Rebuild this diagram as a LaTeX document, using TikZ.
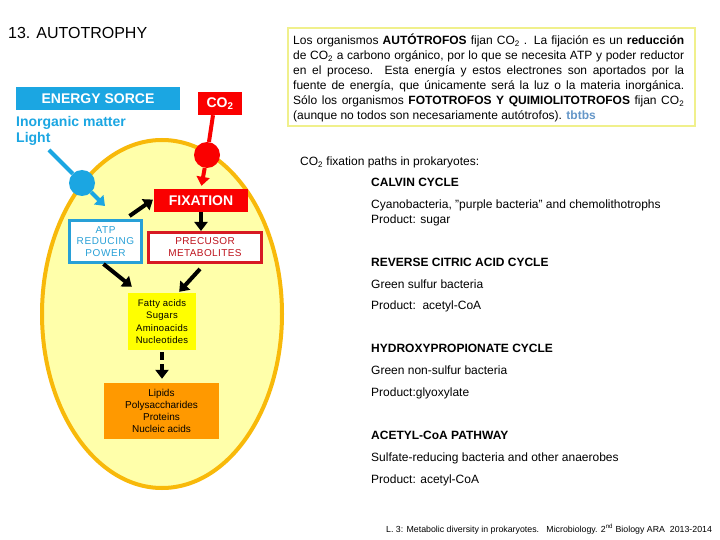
\documentclass[tikz,border=0pt]{standalone}
\usepackage{fontspec}
\setmainfont{Liberation Sans}
\usetikzlibrary{arrows.meta,calc}
\definecolor{cyanE}{RGB}{27,166,226}
\definecolor{cyanT}{RGB}{40,160,215}
\definecolor{redE}{RGB}{250,0,0}
\definecolor{precline}{RGB}{215,25,35}
\definecolor{prectext}{RGB}{190,20,30}
\definecolor{cellfill}{RGB}{255,255,170}
\definecolor{cellline}{RGB}{248,185,10}
\definecolor{yelbox}{RGB}{255,255,0}
\definecolor{orgbox}{RGB}{255,153,0}
\definecolor{boxyel}{RGB}{240,240,140}
\definecolor{tbcol}{RGB}{100,150,200}
\begin{document}
\begin{tikzpicture}[x=1pt,y=-1pt,
  txt/.style={anchor=base west, inner sep=0pt, font=\fontsize{12}{14}\selectfont},
  hd/.style={anchor=base west, inner sep=0pt, font=\fontsize{12}{14}\selectfont\bfseries},
  blk/.style={draw=black, line width=4pt, -{Triangle[length=9pt,width=13pt]}},
  flow/.style={line width=4pt, -{Triangle[length=9pt,width=13pt]}},
  plainbox/.style={rectangle, inner sep=0pt, align=center},
  dot/.style={circle, inner sep=0pt, minimum size=26pt}
]
\useasboundingbox (0,0) rectangle (720,540);
\fill[white] (0,0) rectangle (720,540);

% title
\node[anchor=base west, inner sep=0pt, font=\fontsize{16}{18}\selectfont] (title) at (8,39) {13. AUTOTROPHY};

% energy source and CO2
\node[plainbox, fill=cyanE, minimum width=164pt, minimum height=23pt, text=white, font=\fontsize{14}{16}\selectfont\bfseries] (energy) at (98,98.5) {ENERGY SORCE};
\node[plainbox, fill=redE, minimum width=44pt, minimum height=23pt, text=white, font=\fontsize{14}{16}\selectfont\bfseries] (co2) at (220,103.5) {CO\textsubscript{2}};
\node[anchor=base west, inner sep=0pt, text=cyanE, font=\fontsize{14}{16}\selectfont\bfseries] (inorg) at (16,127) {Inorganic matter};
\node[anchor=base west, inner sep=0pt, text=cyanE, font=\fontsize{14}{16}\selectfont\bfseries] (light) at (16,143) {Light};

% cell
\draw[draw=cellline, fill=cellfill, line width=4pt] (162,314) ellipse [x radius=120pt, y radius=174pt];

% circles
\node[dot, fill=cyanE] (bc) at (82,183) {};
\node[dot, fill=redE] (rc) at (207,155) {};
\coordinate (ls) at (49,150);
\coordinate (bt) at (105,206);

% boxes
\node[plainbox, fill=redE, minimum width=94pt, minimum height=23pt, text=white, font=\fontsize{14}{16}\selectfont\bfseries] (fix) at (201,200.5) {FIXATION};
\node[plainbox, fill=white, draw=cyanT, line width=3pt, minimum width=72pt, minimum height=42pt, text=cyanT, font=\fontsize{10}{11.5}\selectfont\addfontfeatures{LetterSpace=6}] (atp) at (105.5,241.5) {ATP\\REDUCING\\POWER};
\node[plainbox, fill=white, draw=precline, line width=3pt, minimum width=113pt, minimum height=30pt, text=prectext, font=\fontsize{10}{12}\selectfont\addfontfeatures{LetterSpace=4}] (prec) at (205,247.5) {PRECUSOR\\METABOLITES};
\node[plainbox, fill=yelbox, minimum width=68pt, minimum height=57pt, font=\fontsize{9.5}{12.3}\selectfont\addfontfeatures{LetterSpace=3}] (yel) at (162,321.5) {Fatty acids\\Sugars\\Aminoacids\\Nucleotides};
\node[plainbox, fill=orgbox, minimum width=115pt, minimum height=56pt, font=\fontsize{10}{12}\selectfont] (orng) at (161.5,411) {Lipids\\Polysaccharides\\Proteins\\Nucleic acids};

% connectors
\draw[cyanE, line width=4pt] (ls) -- (bc);
\draw[flow, cyanE] (bc) -- (bt);
\draw[redE, line width=4pt] ([xshift=-7pt]co2.south) -- (rc);
\draw[flow, redE, shorten >=3pt] (rc) -- (fix.north);
\draw[blk, shorten >=1pt] ([shift={(24pt,3pt)}]atp.north) -- ([yshift=1.5pt]fix.west);
\draw[blk] (fix.south) -- (fix.south |- prec.north);
\draw[blk] ([xshift=-2pt]atp.south) -- ([shift={(4pt,6pt)}]yel.north west);
\draw[blk] ([shift={(-5pt,-5pt)}]prec.south) -- ([shift={(-17pt,1pt)}]yel.north east);
\draw[blk, dash pattern=on 8pt off 4pt on 40pt, shorten <=2pt, shorten >=4pt] (yel.south) -- (yel.south |- orng.north);

% text box
\draw[boxyel, line width=1.3pt] (288,28) rectangle (695,126);
\node[txt] (p1) at (293,45) {\makebox[391pt][s]{Los organismos \textbf{AUTÓTROFOS} fijan CO\textsubscript{2} . La fijación es un \textbf{reducción}}};
\node[txt] (p2) at (293,60) {\makebox[391pt][s]{de CO\textsubscript{2} a carbono orgánico, por lo que se necesita ATP y poder reductor}};
\node[txt] (p3) at (293,75) {\makebox[391pt][s]{en el proceso. Esta energía y estos electrones son aportados por la}};
\node[txt] (p4) at (293,90) {\makebox[391pt][s]{fuente de energía, que únicamente será la luz o la materia inorgánica.}};
\node[txt] (p5) at (293,105) {\makebox[391pt][s]{Sólo los organismos \textbf{FOTOTROFOS Y QUIMIOLITOTROFOS} fijan CO\textsubscript{2}}};
\node[txt] (p6) at (293,120) {(aunque no todos son necesariamente autótrofos). \textcolor{tbcol}{\textbf{tbtbs}}};

% right column
\node[txt] (paths) at (300,166) {CO\textsubscript{2} fixation paths in prokaryotes:};
\node[hd] (calvin) at (371,187) {CALVIN CYCLE};
\node[txt] (cyano) at (371,208) {Cyanobacteria, "purple bacteria" and chemolithotrophs};
\node[txt] (sugar) at (371,223) {Product: sugar};
\node[hd] (rev) at (371,266) {REVERSE CITRIC ACID CYCLE};
\node[txt] (gsb) at (371,288) {Green sulfur bacteria};
\node[txt] (acet1) at (371,309) {Product:\ \ acetyl-CoA};
\node[hd] (hydro) at (371,352) {HYDROXYPROPIONATE CYCLE};
\node[txt] (gnsb) at (371,374) {Green non-sulfur bacteria};
\node[txt] (glyox) at (371,396) {Product:glyoxylate};
\node[hd] (acpath) at (371,439) {ACETYL-CoA PATHWAY};
\node[txt] (srb) at (371,461) {Sulfate-reducing bacteria and other anaerobes};
\node[txt] (acet2) at (371,483) {Product: acetyl-CoA};

% footer
\node[anchor=base west, inner sep=0pt, font=\fontsize{8.8}{10}\selectfont] (foot) at (386,532) {L. 3: Metabolic diversity in prokaryotes.\ \ \ Microbiology. 2\textsuperscript{nd} Biology ARA\ \ 2013-2014};
\end{tikzpicture}
\end{document}
